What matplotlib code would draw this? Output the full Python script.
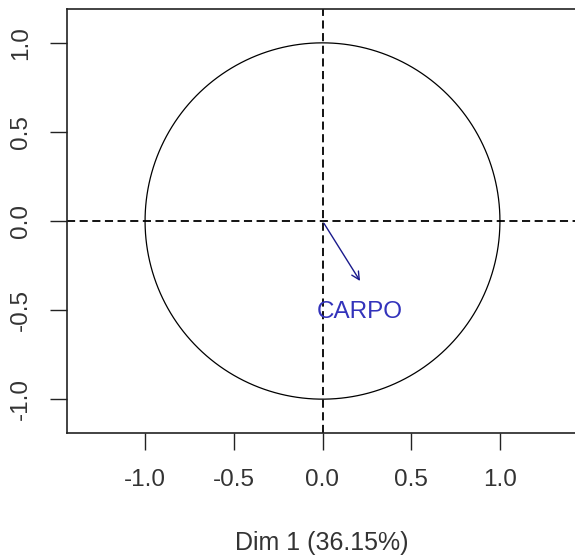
import numpy as np
import matplotlib
matplotlib.use("Agg")
import matplotlib.pyplot as plt

# dados
variaveis = ["CARPO"]
dim1 = [0.22]
dim2 = [-0.35]
label_x = [0.21]
label_y = [-0.51]
ticks = [-1.0, -0.5, 0.0, 0.5, 1.0]
tick_labels = ["-1.0", "-0.5", "0.0", "0.5", "1.0"]
xlabel = "Dim 1 (36.15%)"

plt.rcParams["font.family"] = ["Liberation Sans", "DejaVu Sans"]

fig = plt.figure(figsize=(5.75, 5.55), dpi=100)
ax = fig.add_axes([67 / 575, (555 - 433) / 555, 511 / 575, 424 / 555])

ax.set_xlim(-1.44, 1.44)
ax.set_ylim(-1.19, 1.19)

# circulo
t = np.linspace(0, 2 * np.pi, 400)
ax.plot(np.cos(t), np.sin(t), color="black", lw=0.9)

# eixos tracejados
ax.axhline(0, color="black", lw=1.3, ls=(0, (4.5, 2.5)))
ax.axvline(0, color="black", lw=1.3, ls=(0, (4.5, 2.5)))

# setas
for nome, x, y, lx, ly in zip(variaveis, dim1, dim2, label_x, label_y):
    ax.annotate("", xy=(x, y), xytext=(0, 0),
                arrowprops=dict(arrowstyle="->", color="#1a1a8c", lw=1.0,
                                mutation_scale=14))
    ax.text(lx, ly, nome, color="#3333bb", fontsize=17.5, ha="center", va="center")

ax.set_xticks(ticks)
ax.set_xticklabels(tick_labels)
ax.set_yticks(ticks)
ax.set_yticklabels(tick_labels, rotation=90, va="center")
ax.tick_params(labelsize=17.5, length=12, width=1.0, color="#222222",
               labelcolor="#333333")
ax.tick_params(axis="x", pad=14)
ax.tick_params(axis="y", pad=13)
for s in ax.spines.values():
    s.set_linewidth(1.2)
    s.set_color("#222222")

fig.text(322 / 575, 1 - 543 / 555, xlabel, ha="center", va="center",
         fontsize=18, color="#333333")

fig.savefig("out.png", dpi=100)
